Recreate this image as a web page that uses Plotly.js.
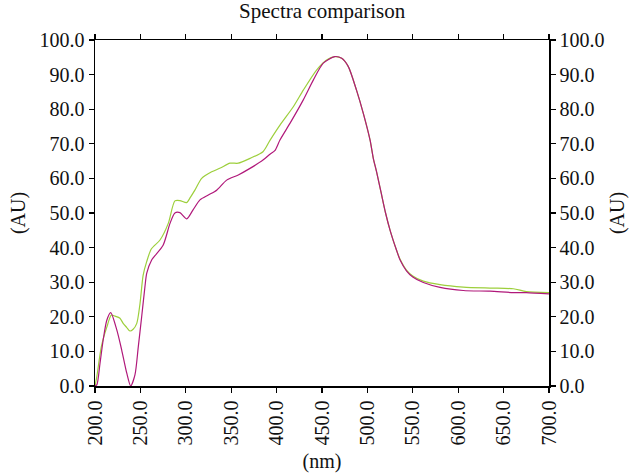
<!DOCTYPE html>
<html>
<head>
<meta charset="utf-8">
<script src="https://cdn.plot.ly/plotly-3.0.1.min.js"></script>
<style>html,body{margin:0;padding:0;background:#fff;}#chart{width:633px;height:473px;}</style>
</head>
<body>
<div id="chart"></div>
<script>
// Wavelength (nm) and absorbance (AU)
const greenNm = [200, 202, 207, 213, 218, 222, 227.5, 231, 235, 238.5, 242, 246, 249.6, 253, 257, 262, 271.6, 280.7, 288, 293.5, 301, 305, 310, 317.5, 328.5, 338, 348.7, 357.8, 370.7, 385, 392.7, 403.7, 418.4, 429.4, 444, 455, 464, 471.7, 479, 488, 495.5, 502.9, 506.5, 510, 515, 520, 525, 532, 536, 543, 550, 561.6, 580, 605.6, 635, 660.7, 675, 700];
const greenAU = [0, 2.7, 11.4, 17.0, 20.5, 20.2, 19.6, 18.1, 16.9, 15.9, 16.4, 18.1, 23.9, 32.0, 36.0, 39.6, 42.2, 47.0, 53.5, 53.6, 53.0, 54.5, 56.6, 60.0, 61.9, 63.0, 64.4, 64.4, 65.8, 67.7, 71.0, 75.4, 80.7, 85.5, 91.3, 94.2, 95.2, 94.7, 92.3, 85.5, 78.8, 71.1, 65.8, 62.0, 56.0, 50.0, 45.0, 39.3, 36.6, 33.5, 31.8, 30.3, 29.3, 28.6, 28.3, 28.1, 27.3, 27.0];
const magentaNm = [200, 202, 205.5, 209, 213, 217.3, 224, 229.4, 235, 239.3, 244, 247.7, 251.4, 255, 257, 262.4, 275, 282.6, 288, 293.5, 301, 308, 315.6, 324.8, 334, 345, 357.8, 370.7, 385, 392.7, 398, 403.7, 414.7, 429.4, 440.4, 451.4, 464, 471.7, 479, 488, 495.5, 502.9, 506.5, 510, 515, 520, 525, 532, 536, 543, 550, 561.6, 580, 605.6, 635, 660.7, 675, 700];
const magentaAU = [0, 0.3, 6.5, 13.3, 19.0, 21.2, 16.2, 10.4, 3.7, 0, 3.2, 11.4, 20.0, 28.7, 32.6, 36.4, 40.7, 47.0, 50.0, 50.1, 48.3, 50.9, 53.8, 55.2, 56.6, 59.5, 61.0, 62.9, 65.3, 67.0, 68.0, 71.1, 75.9, 82.7, 88.4, 93.3, 95.2, 94.7, 92.3, 85.5, 78.8, 71.1, 65.8, 62.0, 56.0, 50.0, 45.0, 39.3, 36.4, 33.3, 31.5, 29.9, 28.5, 27.6, 27.4, 27.0, 27.0, 26.6];
const xTicks = [200, 250, 300, 350, 400, 450, 500, 550, 600, 650, 700];
const yTicks = [0, 10, 20, 30, 40, 50, 60, 70, 80, 90, 100];

const serif = "Liberation Serif, Times New Roman, serif";
const traces = [
  {x: greenNm, y: greenAU, type: 'scatter', mode: 'lines', line: {color: '#9dcf3c', width: 1.2, shape: 'spline', smoothing: 0.7}, name: 'Sample', showlegend: false},
  {x: magentaNm, y: magentaAU, type: 'scatter', mode: 'lines', line: {color: '#b0187a', width: 1.2, shape: 'spline', smoothing: 0.7}, name: 'Reference', showlegend: false, yaxis: 'y2'}
];
const yCommon = {
  range: [0, 100], tickvals: yTicks, ticktext: yTicks.map(v => v.toFixed(1)),
  ticks: 'outside', ticklen: 5, tickwidth: 1.3, tickcolor: '#000',
  showline: true, linecolor: '#000', linewidth: 1.5, showgrid: false, zeroline: false,
  tickfont: {family: serif, size: 20, color: '#111'}
};
const layout = {
  width: 633, height: 473,
  margin: {l: 95, r: 84, t: 40, b: 87},
  paper_bgcolor: '#fff', plot_bgcolor: '#fff',
  font: {family: serif, color: '#111'},
  title: {text: 'Spectra comparison', font: {family: serif, size: 21, color: '#111'}, x: 0.509, xanchor: 'center', y: 0.992, yanchor: 'top'},
  xaxis: {
    range: [200, 700], tickvals: xTicks, ticktext: xTicks.map(v => v.toFixed(1)), tickangle: -90,
    ticks: 'outside', ticklen: 5, tickwidth: 1.3, tickcolor: '#000', mirror: 'ticks',
    showline: true, linecolor: '#000', linewidth: 1.5, showgrid: false, zeroline: false,
    tickfont: {family: serif, size: 20, color: '#111'},
    title: {text: '(nm)', font: {family: serif, size: 20, color: '#111'}, standoff: 10}
  },
  yaxis: Object.assign({}, yCommon, {side: 'left', title: {text: '(AU)', font: {family: serif, size: 20, color: '#111'}, standoff: 8}}),
  yaxis2: Object.assign({}, yCommon, {side: 'right', overlaying: 'y', title: {text: '(AU)', font: {family: serif, size: 20, color: '#111'}, standoff: 6}})
};
Plotly.newPlot('chart', traces, layout, {displayModeBar: false, staticPlot: true});
</script>
</body>
</html>
